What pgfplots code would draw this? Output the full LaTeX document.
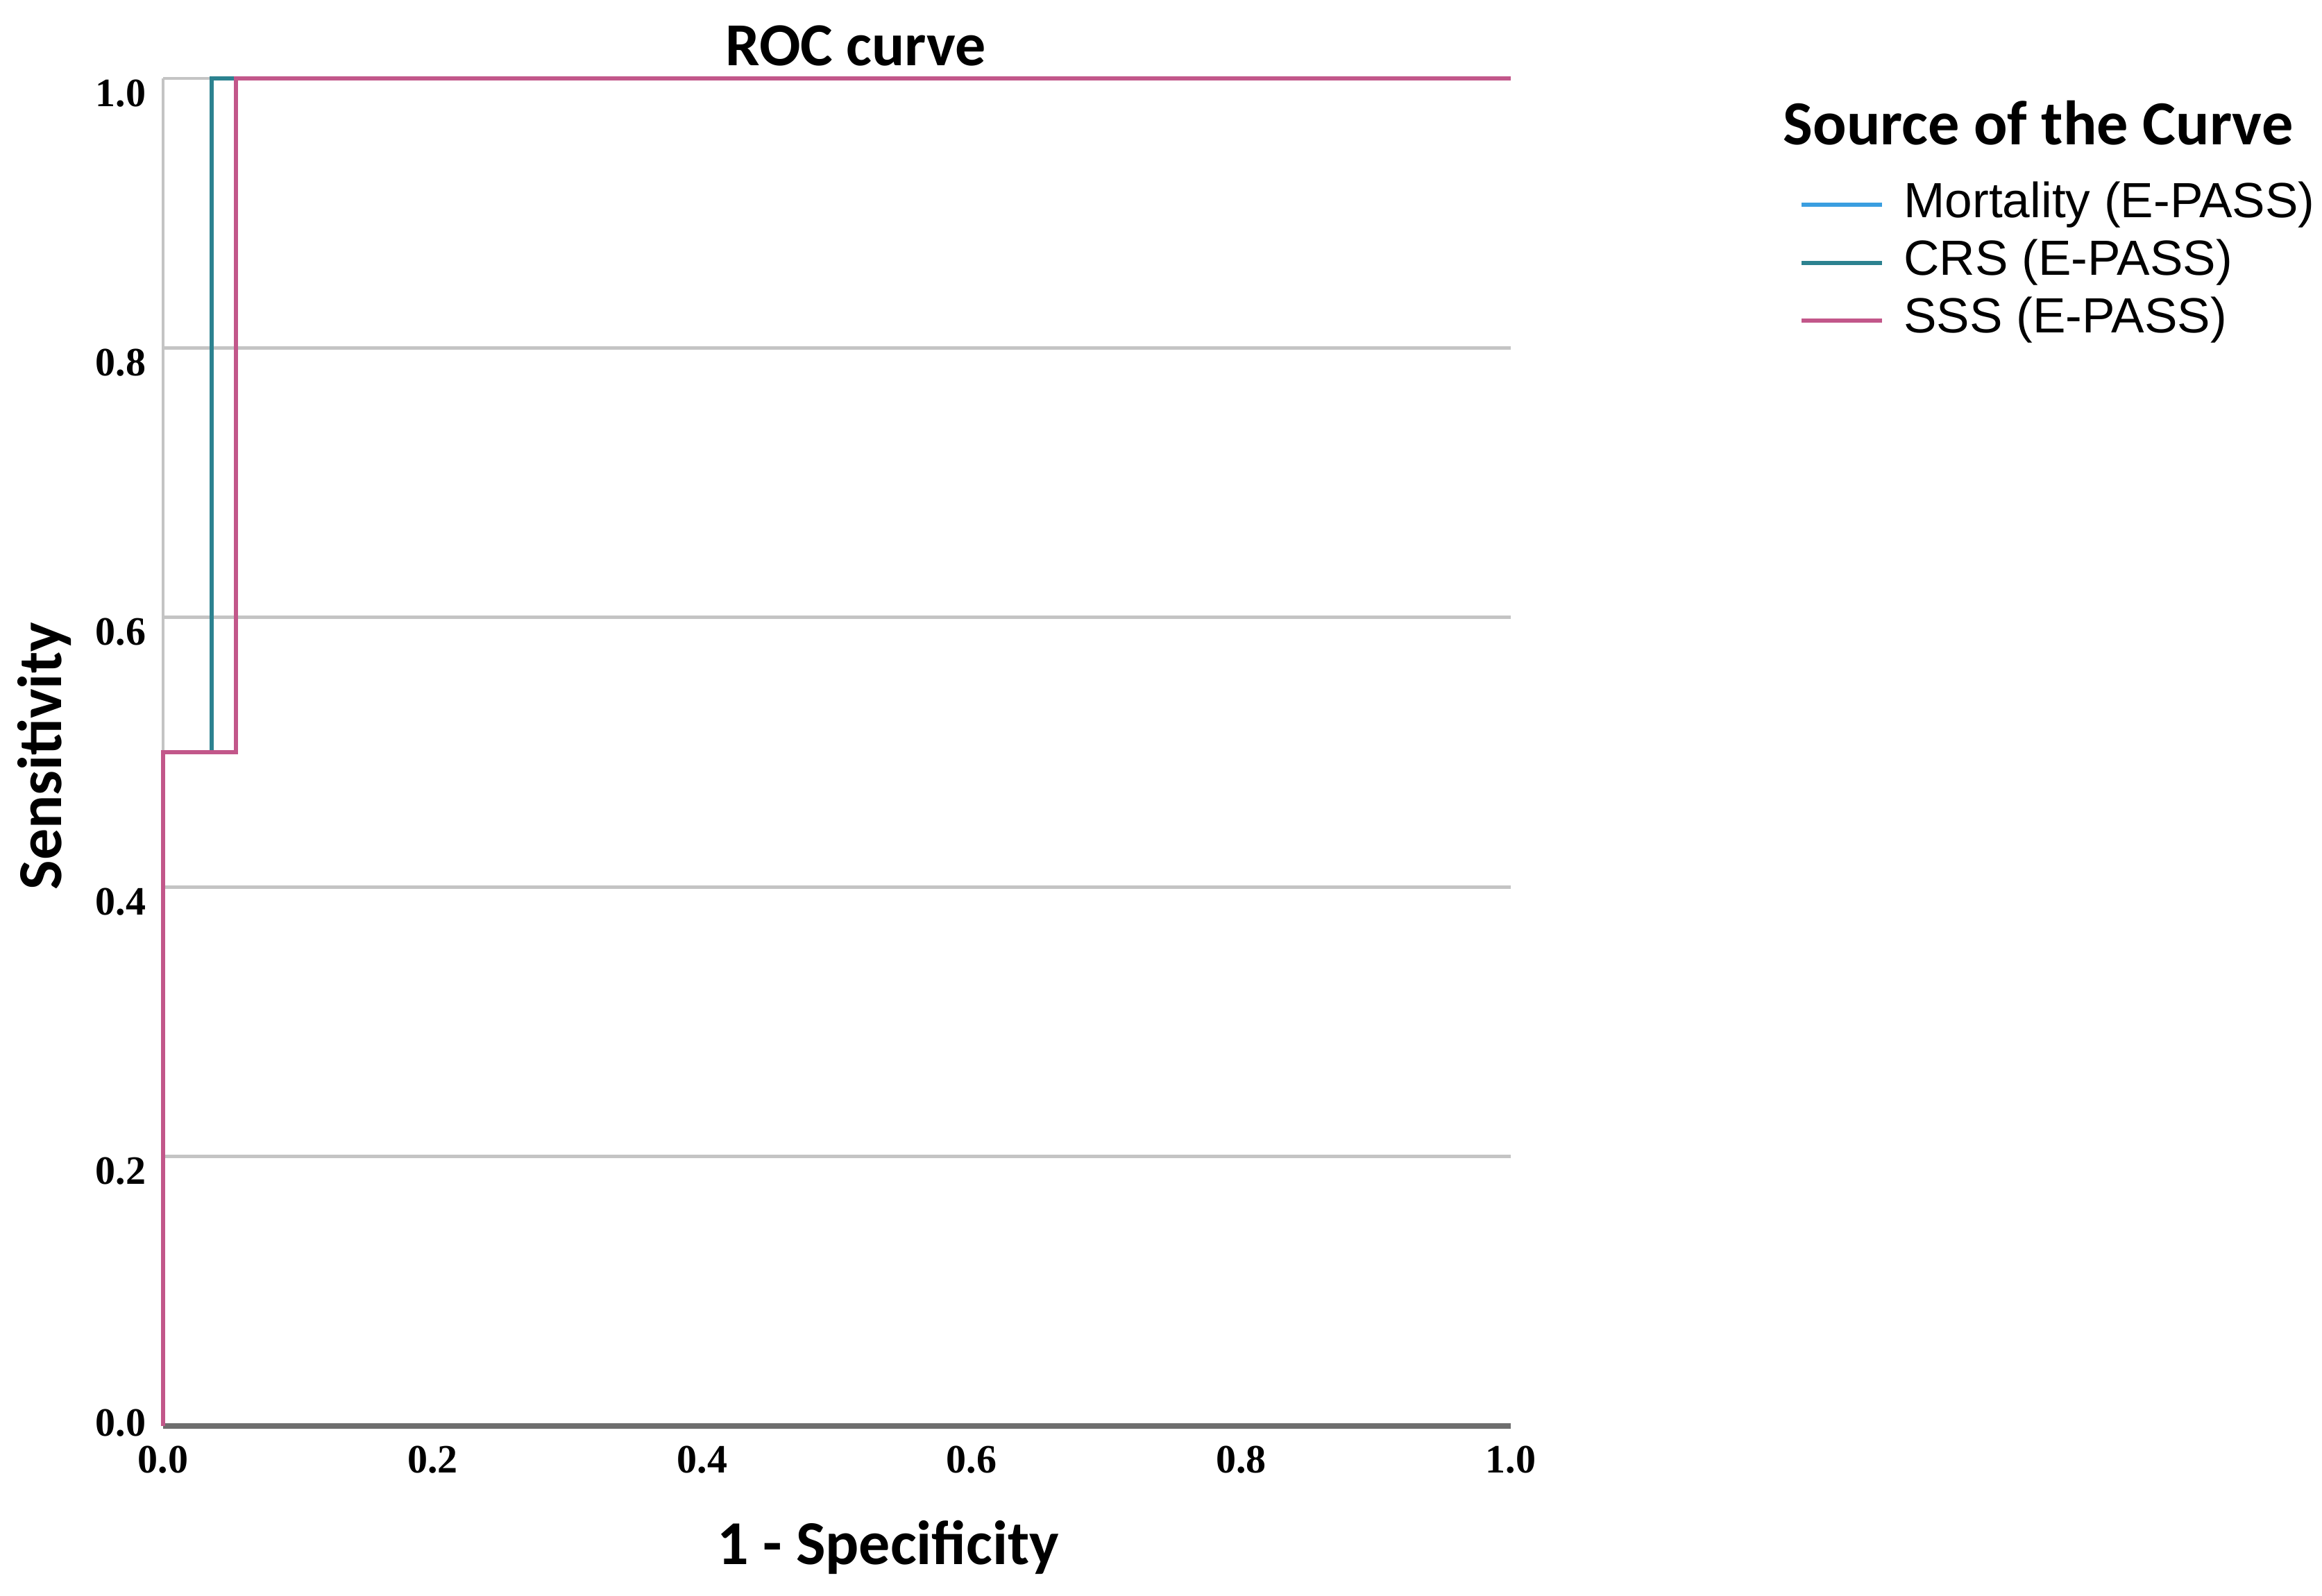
\documentclass[border=0pt]{standalone}
\usepackage{fontspec}
\setmainfont{Liberation Sans}
\newfontfamily\carlito{Carlito}
\newfontfamily\tickfont{Liberation Serif}
\usepackage{pgfplots}
\pgfplotsset{compat=1.18}

\definecolor{mortblue}{HTML}{3A9EE0}
\definecolor{crsteal}{HTML}{2C8290}
\definecolor{sssppink}{HTML}{C2578A}
\definecolor{gridgray}{HTML}{C4C4C4}
\definecolor{axisgray}{HTML}{6E6E6E}

\begin{document}
\begin{tikzpicture}
\begin{axis}[
    scale only axis,
    width=485.5pt, height=485.5pt,
    xmin=0, xmax=1, ymin=0, ymax=1,
    clip=false,
    axis x line*=bottom,
    axis y line*=left,
    x axis line style={-, draw=axisgray, line width=1.8pt},
    y axis line style={-, draw=gridgray, line width=1.2pt},
    major tick length=0pt,
    tick style={draw=none},
    xtick={0,0.2,0.4,0.6,0.8,1.0},
    ytick={0.2,0.4,0.6,0.8,1.0},
    extra y ticks={0},
    extra y tick style={grid=none, yticklabel style={yshift=6.3pt}},
    ymajorgrids=true,
    major grid style={draw=gridgray, line width=1.2pt},
    /pgf/number format/assume math mode=true,
    /pgf/number format/.cd, fixed, fixed zerofill, precision=1,
    /pgfplots/.cd,
    ticklabel style={font=\tickfont\bfseries\fontsize{14.5}{14.5}\selectfont},
    xticklabel style={yshift=-3.8pt},
    yticklabel style={xshift=-2.7pt, yshift=-5.3pt},
    title={ROC curve},
    title style={at={(axis description cs:0.514,1.012)}, anchor=center,
        font=\carlito\bfseries\fontsize{22}{22}\selectfont},
    xlabel={1 - Specificity},
    xlabel style={at={(axis description cs:0.538,-0.09)}, anchor=center,
        font=\carlito\bfseries\fontsize{22.5}{22.5}\selectfont},
    ylabel={Sensitivity},
    ylabel style={at={(axis description cs:-0.088,0.497)}, anchor=center, rotate=0,
        font=\carlito\bfseries\fontsize{22.5}{22.5}\selectfont},
    legend cell align=left,
    legend image code/.code={\draw[#1, line width=1.5pt] (0pt,0pt) -- (29pt,0pt);},
    legend style={at={(axis description cs:1.214,0.924)}, anchor=north west,
        draw=none, fill=none, inner sep=0pt, row sep=3.8pt,
        nodes={inner sep=0pt, text height=13pt, text depth=4pt},
        /tikz/every odd column/.append style={column sep=7pt},
        font=\fontsize{17.8}{17.8}\selectfont},
]

% Mortality (E-PASS)
\addplot[color=mortblue, line width=1.5pt] coordinates {
(0,0) (0,0.5) (0.036,0.5) (0.036,1) (1,1)
};
% CRS (E-PASS)
\addplot[color=crsteal, line width=1.5pt] coordinates {
(0,0) (0,0.5) (0.036,0.5) (0.036,1) (1,1)
};
% SSS (E-PASS)
\addplot[color=sssppink, line width=1.5pt] coordinates {
(0,0) (0,0.5) (0.054,0.5) (0.054,1) (1,1)
};
\legend{Mortality (E-PASS), CRS (E-PASS), SSS (E-PASS)}

\node[anchor=west, font=\carlito\bfseries\fontsize{22.6}{22.6}\selectfont]
    at (axis description cs:1.195,0.967) {Source of the Curve};
\end{axis}
\pgfresetboundingbox
\path (-58.75pt,-61pt) rectangle (777.75pt,513.75pt);
\end{tikzpicture}
\end{document}
